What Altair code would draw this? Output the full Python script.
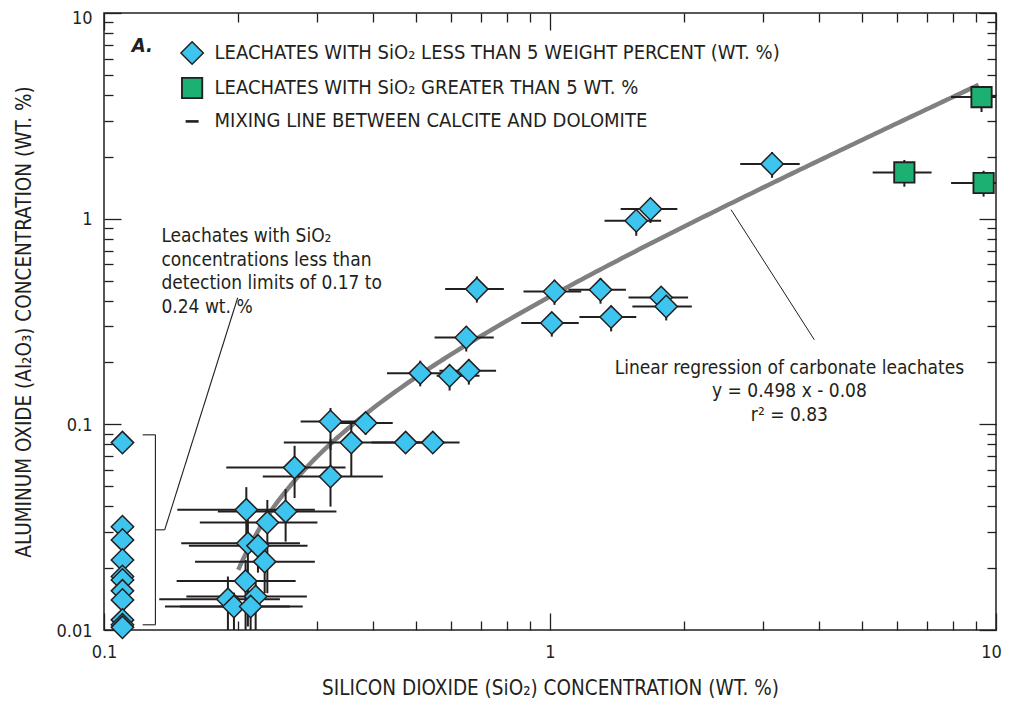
import math
import altair as alt
import pandas as pd

# ---------------- data ----------------
G1 = "LEACHATES WITH SiO₂ LESS THAN 5 WEIGHT PERCENT (WT. %)"
G2 = "LEACHATES WITH SiO₂ GREATER THAN 5 WT. %"
G3 = "MIXING LINE BETWEEN CALCITE AND DOLOMITE"
GROUPS = [G1, G2, G3]

# leachates with SiO2 below detection limit (plotted at fixed x)
bdl_x = [0.11, 0.11, 0.11, 0.11, 0.11, 0.11, 0.11, 0.11, 0.11, 0.11, 0.11]
bdl_y = [0.0815, 0.0318, 0.0274, 0.0219, 0.0182, 0.0175, 0.0155, 0.0140, 0.0112, 0.0106, 0.0103]

# leachates with SiO2 < 5 wt. %
lt5_x = [0.322, 0.386, 0.3585, 0.4745, 0.546, 0.2675, 0.322, 0.2085, 0.2554, 0.2324,
         0.2102, 0.2214, 0.2292, 0.2077, 0.1896, 0.2188, 0.1956, 0.2132,
         1.680, 1.561, 0.6855, 1.0235, 1.298, 1.775, 1.822, 1.0093, 1.371, 0.649,
         0.5118, 0.5955, 0.6577, 3.147]
lt5_y = [0.1032, 0.1014, 0.0815, 0.0815, 0.0815, 0.0616, 0.0557, 0.0384, 0.0377, 0.0333,
         0.0264, 0.02565, 0.0215, 0.0173, 0.0141, 0.01454, 0.0130, 0.0130,
         1.114, 0.977, 0.4545, 0.4424, 0.451, 0.4136, 0.374, 0.3108, 0.3323, 0.2644,
         0.1774, 0.1722, 0.182, 1.844]
lt5_xlo = [0.276, 0.338, 0.253, 0.398, 0.46, 0.188, 0.227, 0.146, 0.18, 0.164,
           0.149, 0.155, 0.16, 0.1455, 0.133, 0.153, 0.137, 0.148,
           1.44, 1.325, 0.582, 0.872, 1.10, 1.50, 1.53, 0.862, 1.164, 0.551,
           0.431, 0.557, 0.565, 2.67]
lt5_xhi = [0.368, 0.444, 0.51, 0.58, 0.627, 0.348, 0.422, 0.297, 0.332, 0.301,
           0.275, 0.286, 0.297, 0.269, 0.248, 0.285, 0.261, 0.279,
           1.93, 1.775, 0.788, 1.175, 1.48, 2.04, 2.08, 1.16, 1.561, 0.748,
           0.596, 0.695, 0.757, 3.63]
lt5_ylo = [0.075, 0.089, 0.0557, 0.075, 0.075, 0.0438, 0.0398, 0.026, 0.0269, 0.0151,
           0.0104, 0.019, 0.0151, 0.0085, 0.007, 0.007, 0.006, 0.006,
           0.952, 0.826, 0.391, 0.381, 0.386, 0.369, 0.32, 0.267, 0.283, 0.226,
           0.153, 0.146, 0.156, 1.58]
lt5_yhi = [0.12, 0.114, 0.103, 0.088, 0.088, 0.0786, 0.085, 0.0495, 0.0484, 0.0429,
           0.0343, 0.029, 0.0269, 0.0219, 0.0182, 0.0175, 0.0152, 0.0155,
           1.26, 1.068, 0.524, 0.505, 0.514, 0.46, 0.42, 0.348, 0.378, 0.301,
           0.204, 0.195, 0.2075, 2.11]

# leachates with SiO2 > 5 wt. %
gt5_x = [9.28, 6.23, 9.38]
gt5_y = [3.90, 1.678, 1.49]
gt5_xlo = [7.93, 5.29, 7.93]
gt5_xhi = [10.8, 7.17, 10.8]
gt5_ylo = [3.30, 1.43, 1.28]
gt5_yhi = [4.37, 1.93, 1.71]

# regression line y = 0.498 x - 0.08, drawn over the x range seen in the figure
SLOPE = 0.498
INTERCEPT = -0.08
LINE_X_START = 0.2
LINE_X_END = 9.15

# axis ticks
X_MAJOR = [0.1, 1, 10]
X_MINOR = [0.2, 0.3, 0.4, 0.5, 0.6, 0.7, 0.8, 0.9, 2, 3, 4, 5, 6, 7, 8, 9]
Y_MAJOR = [0.01, 0.1, 1, 10]
Y_MINOR = [0.02, 0.03, 0.04, 0.05, 0.06, 0.07, 0.08, 0.09,
           0.2, 0.3, 0.4, 0.5, 0.6, 0.7, 0.8, 0.9, 2, 3, 4, 5, 6, 7, 8, 9]

# ---------------- tables ----------------
pts = pd.DataFrame({
    "x": bdl_x + lt5_x + gt5_x,
    "y": bdl_y + lt5_y + gt5_y,
    "group": [G1] * len(bdl_x) + [G1] * len(lt5_x) + [G2] * len(gt5_x),
})
bars = pd.DataFrame({
    "x": lt5_x + gt5_x, "y": lt5_y + gt5_y,
    "xlo": lt5_xlo + gt5_xlo, "xhi": lt5_xhi + gt5_xhi,
    "ylo": lt5_ylo + gt5_ylo, "yhi": lt5_yhi + gt5_yhi,
})

FONT = "DejaVu Sans Condensed, Liberation Sans Narrow, sans-serif"
INK = "#231f20"
BLUE = "#3ec5ef"
GREEN = "#1db073"
XS = alt.Scale(type="log", domain=[0.1, 10], nice=False)
YS = alt.Scale(type="log", domain=[0.01, 10], nice=False)

XTITLE = "SILICON DIOXIDE (SiO₂) CONCENTRATION (WT. %)"
YTITLE = "ALUMINUM OXIDE (Al₂O₃) CONCENTRATION (WT. %)"

MAJ, MIN = 17, 9


def ax(orient, values, size, labels=False, title=None, fmt="~g", pad=12, tpad=10, loff=None):
    kw = dict(orient=orient, values=values, tickSize=size, offset=-size, domain=False,
              grid=False, tickColor=INK, tickWidth=1.3, labels=labels)
    if labels:
        kw.update(format=fmt, labelFont=FONT, labelFontSize=18, labelColor=INK,
                  labelPadding=pad, labelFlush=False, labelOverlap=False)
        if loff is not None:
            kw.update(labelOffset=loff)
    if title:
        kw.update(title=title, titleFont=FONT, titleFontSize=20.5, titleFontWeight="normal",
                  titleColor=INK, titlePadding=tpad)
    else:
        kw.update(title=None)
    return alt.Axis(**kw)


def axis_layer(xa, ya):
    return alt.Chart(pts).mark_point(opacity=0).encode(
        x=alt.X("x:Q", scale=XS, axis=xa),
        y=alt.Y("y:Q", scale=YS, axis=ya),
    )


axes = [
    axis_layer(ax("bottom", X_MAJOR, MAJ, labels=True, title=XTITLE, pad=13, tpad=17,
                  loff={"condition": {"test": "datum.value >= 10", "value": -5}, "value": 0}),
               ax("left", Y_MAJOR, MAJ, labels=True, title=YTITLE, pad=12, tpad=21,
                  loff={"condition": {"test": "datum.value >= 10", "value": 5}, "value": 1})),
    axis_layer(ax("bottom", X_MINOR, MIN), ax("left", Y_MINOR, MIN)),
    axis_layer(ax("top", X_MAJOR, MAJ), ax("right", Y_MAJOR, MAJ)),
    axis_layer(ax("top", X_MINOR, MIN), ax("right", Y_MINOR, MIN)),
]

reg = alt.Chart(alt.sequence(math.log10(LINE_X_START), math.log10(LINE_X_END) + 0.005, 0.01, as_="t")
                ).transform_calculate(xv="pow(10, datum.t)"
                ).transform_calculate(yv=f"{SLOPE} * datum.xv + ({INTERCEPT})"
                ).mark_line(color="#808080", strokeWidth=4.5, clip=True).encode(
    x=alt.X("xv:Q", scale=XS, axis=None),
    y=alt.Y("yv:Q", scale=YS, axis=None),
)

hbars = alt.Chart(bars).mark_rule(color=INK, strokeWidth=2, clip=True).encode(
    x=alt.X("xlo:Q", scale=XS, axis=None), x2="xhi:Q",
    y=alt.Y("y:Q", scale=YS, axis=None),
)
vbars = alt.Chart(bars).mark_rule(color=INK, strokeWidth=2, clip=True).encode(
    x=alt.X("x:Q", scale=XS, axis=None),
    y=alt.Y("ylo:Q", scale=YS, axis=None), y2="yhi:Q",
)

points = alt.Chart(pts).mark_point(filled=True, stroke=INK, opacity=1).encode(
    x=alt.X("x:Q", scale=XS, axis=None),
    y=alt.Y("y:Q", scale=YS, axis=None),
    fill=alt.Fill("group:N", scale=alt.Scale(domain=GROUPS, range=[BLUE, GREEN, INK]), legend=None),
    shape=alt.Shape("group:N", scale=alt.Scale(domain=GROUPS, range=["diamond", "square", "stroke"]),
                    legend=None),
    size=alt.Size("group:N", scale=alt.Scale(domain=GROUPS, range=[500, 324, 169]), legend=None),
    strokeWidth=alt.StrokeWidth("group:N", scale=alt.Scale(domain=GROUPS, range=[1.5, 2.2, 2.6]),
                                legend=None),
)

# ---------------- key (placed in data coordinates, top-left of the panel) ----------------
key_sym = pd.DataFrame({"x": [0.1576, 0.1576], "y": [6.39, 4.318], "group": [G1, G2]})
key_dash = pd.DataFrame({"x1": [0.1524], "x2": [0.1630], "y1": [2.971], "y2": [2.971]})
key_txt = pd.DataFrame({"x": [0.1770, 0.1770, 0.1770], "y": [6.39, 4.318, 2.971], "t": GROUPS})

key_points = alt.Chart(key_sym).mark_point(filled=True, stroke=INK, opacity=1).encode(
    x=alt.X("x:Q", scale=XS, axis=None),
    y=alt.Y("y:Q", scale=YS, axis=None),
    fill=alt.Fill("group:N", scale=alt.Scale(domain=GROUPS, range=[BLUE, GREEN, INK]), legend=None),
    shape=alt.Shape("group:N", scale=alt.Scale(domain=GROUPS, range=["diamond", "square", "stroke"]),
                    legend=None),
    size=alt.Size("group:N", scale=alt.Scale(domain=GROUPS, range=[540, 324, 169]), legend=None),
    strokeWidth=alt.StrokeWidth("group:N", scale=alt.Scale(domain=GROUPS, range=[1.5, 2.2, 2.6]),
                                legend=None),
)
key_text = alt.Chart(key_txt).mark_text(font=FONT, fontSize=20, color=INK, align="left",
                                        baseline="middle").encode(
    x=alt.X("x:Q", scale=XS, axis=None),
    y=alt.Y("y:Q", scale=YS, axis=None),
    text="t:N",
)

# ---------------- annotations ----------------
bracket = pd.DataFrame({
    "x1": [0.1304, 0.1221, 0.1221, 0.1304, 0.1368],
    "x2": [0.1304, 0.1304, 0.1304, 0.1368, 0.1994],
    "y1": [0.0106, 0.0889, 0.0106, 0.0307, 0.0307],
    "y2": [0.0889, 0.0889, 0.0106, 0.0307, 0.4124],
})
leader = pd.DataFrame({"x1": [2.547], "x2": [3.915], "y1": [1.105], "y2": [0.2576]})


def lines(df, w):
    return alt.Chart(df).mark_rule(color=INK, strokeWidth=w).encode(
        x=alt.X("x1:Q", scale=XS, axis=None), x2="x2:Q",
        y=alt.Y("y1:Q", scale=YS, axis=None), y2="y2:Q",
    )


left_note = pd.DataFrame({"x": [0.1345], "y": [0.7696],
                          "t": ["Leachates with SiO₂\nconcentrations less than\ndetection limits of 0.17 to\n0.24 wt. %"]})
right_note = pd.DataFrame({"x": [3.442], "y": [0.176],
                           "t": ["Linear regression of carbonate leachates\ny = 0.498 x - 0.08\nr² = 0.83"]})
panel = pd.DataFrame({"x": [0.1154], "y": [6.48], "t": ["A."]})


def note(df, align, size=19, **kw):
    return alt.Chart(df).mark_text(font=FONT, fontSize=size, color=INK, align=align,
                                   baseline="alphabetic", lineBreak="\n", lineHeight=23.6, **kw
                                   ).encode(
        x=alt.X("x:Q", scale=XS, axis=None),
        y=alt.Y("y:Q", scale=YS, axis=None),
        text="t:N",
    )


chart = alt.layer(
    *axes,
    reg,
    hbars, vbars,
    lines(bracket, 1.1), lines(leader, 1.0), lines(key_dash, 2.6),
    points, key_points,
    key_text,
    note(left_note, "left"),
    note(right_note, "center"),
    note(panel, "left", size=20, fontWeight="bold", fontStyle="italic"),
).resolve_axis(x="independent", y="independent").properties(
    width=892, height=617,
    padding={"left": 96, "top": 5, "right": 7, "bottom": 68},
    autosize=alt.AutoSizeParams(type="none"),
).configure_view(stroke=INK, strokeWidth=1.5)

chart.save("out.html", embed_options={"renderer": "svg", "actions": False})
